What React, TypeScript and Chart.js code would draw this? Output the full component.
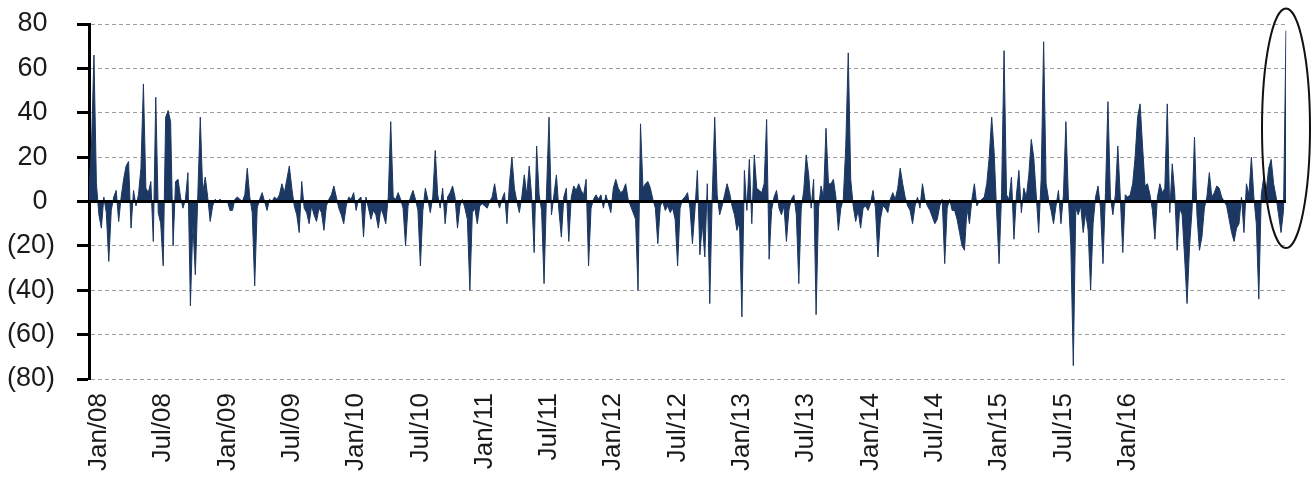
import React, { useEffect, useRef } from 'react';
import { Chart, registerables } from 'chart.js';

Chart.register(...registerables);

// Weekly values, grouped by the labelled year they fall in
const lead2007 = [5, 25, 66, 8];
const year2008 = [
  -6, -12, 2, -5, -27, -4, 2, 5, -9, 2,
  10, 16, 18, -12, 5, -2, 3, 15, 53, 6,
  4, 9, -18, 47, -5, -10, -29, 38, 41, 36,
  -20, 9, 10, 2, -3, 1, 13, -47, -10, -33,
  3, 38, 4, 11, 2, -9, -2, 1, 0, 1,
  0, 0,
];
const year2009 = [
  0, -4, -4, 1, 2, 1, 0, 3, 15, 2,
  -5, -38, -3, 1, 4, 0, -4, 1, 0, 2,
  1, 3, 8, 4, 10, 16, 6, -2, -6, -14,
  9, -3, -5, -10, -2, -6, -9, -3, -5, -13,
  -2, 1, 3, 7, 2, -3, -6, -10, -2, 2,
  1, 4,
];
const year2010 = [
  -4, 1, 2, -16, 2, -3, -8, -4, -6, -12,
  -3, -6, -10, 2, 36, 2, 1, 4, 1, -3,
  -20, -2, 2, 5, 1, -4, -29, -4, 6, 1,
  -5, 2, 23, 3, -3, 6, -10, 2, 4, 7,
  2, -12, -2, 1, -3, -8, -40, -5, -3, -10,
  -2, -1,
];
const year2011 = [
  -2, -3, 0, 2, 8, 1, -3, 1, 4, -10,
  8, 20, 6, 0, -5, 2, 12, 3, 16, 2,
  -23, 25, 3, -4, -37, 4, 38, -6, 3, 12,
  -4, -16, 2, 6, -18, 2, 7, 5, 8, 5,
  3, 10, -29, -3, 1, 3, 1, 3, -3, 3,
  -1, -5,
];
const year2012 = [
  6, 10, 6, 4, 5, 8, 1, -2, -5, -8,
  -40, 35, 6, 8, 9, 6, 1, -3, -19, -2,
  0, -4, -2, -5, -3, -8, -29, -3, 1, 2,
  4, -3, -19, -4, 14, -24, -10, -25, 8, -46,
  2, 38, 3, -6, -2, 3, 8, 4, -2, -6,
  -13, -9,
];
const year2013 = [
  -52, 14, -4, 19, -10, 21, 6, 5, 4, 8,
  37, -26, -4, 2, 5, -3, -6, -2, -18, -4,
  1, 3, -6, -37, -3, 5, 21, 12, -3, 10,
  -51, -3, 7, 2, 33, 8, 8, 10, 2, -13,
  -3, 1, 25, 67, 10, -2, -9, -4, -12, -3,
  -2, -4,
];
const year2014 = [
  -1, 5, -3, -25, -8, -2, -3, -5, 1, 4,
  1, 6, 15, 8, 2, -2, -4, -10, -2, 2,
  -3, 8, 1, -2, -4, -7, -10, -8, -2, 1,
  -28, -3, 1, -4, -4, -8, -14, -20, -22, -3,
  -10, 1, 8, -2, 0, 1, 2, 8, 20, 38,
  22, -5,
];
const year2015 = [
  -28, 4, 68, 3, 1, 11, -17, 3, 14, -5,
  6, 2, 12, 28, 20, 3, -14, 10, 72, 8,
  1, -4, -10, -2, 5, -10, 3, 36, 2, -20,
  -74, -3, -6, -2, -14, -5, -13, -40, -10, 2,
  7, -3, -28, 4, 45, 2, -6, 3, 25, 2,
  -23, 3,
];
const year2016 = [
  2, 3, 8, 20, 38, 44, 25, 7, 8, 3,
  -4, -17, 2, 8, 4, 6, 44, -5, 17, 4,
  -22, -3, -6, -25, -46, -20, -4, 29, -6, -22,
  -16, -3, 2, 13, 2, 4, 7, 6, 2, 0,
  -2, -8, -14, -18, -12, -10, 2, -14, 8, 3,
  20, 2, -10, -44, 3, 11, 5, 15, 19, 8,
  2, -6, -14, -4, 77,
];

const tickLabels = [
  'Jan/08', 'Jul/08', 'Jan/09', 'Jul/09', 'Jan/10', 'Jul/10', 'Jan/11', 'Jul/11',
  'Jan/12', 'Jul/12', 'Jan/13', 'Jul/13', 'Jan/14', 'Jul/14', 'Jan/15', 'Jul/15', 'Jan/16',
];

// highlighted latest reading: ellipse spans these values
const highlightTop = 87;
const highlightBottom = -21;

const values = [
  ...lead2007, ...year2008, ...year2009, ...year2010, ...year2011,
  ...year2012, ...year2013, ...year2014, ...year2015, ...year2016,
];
const firstLabelIndex = lead2007.length;
const labelEvery = 26;
const categories = values.map((_, i) => String(i));

const NAVY = '#1c3862';

const overlayPlugin = {
  id: 'overlay',
  afterDatasetsDraw(chart: any) {
    const { ctx, chartArea, scales } = chart;
    const x = scales.x;
    const y = scales.y;
    const y0 = y.getPixelForValue(0);
    ctx.save();
    ctx.strokeStyle = '#000';
    ctx.lineWidth = 3;
    ctx.beginPath();
    ctx.moveTo(chartArea.left, y0);
    ctx.lineTo(chartArea.right, y0);
    ctx.stroke();

    const cx = x.getPixelForValue(values.length - 1);
    const yt = y.getPixelForValue(highlightTop);
    const yb = y.getPixelForValue(highlightBottom);
    ctx.lineWidth = 2;
    ctx.strokeStyle = '#111';
    ctx.beginPath();
    ctx.ellipse(cx, (yt + yb) / 2, 24, (yb - yt) / 2, 0, 0, Math.PI * 2);
    ctx.stroke();
    ctx.restore();
  },
};

export default function App() {
  const canvasRef = useRef<HTMLCanvasElement | null>(null);

  useEffect(() => {
    document.body.style.margin = '0';
    const canvas = canvasRef.current;
    if (!canvas) return;
    Chart.defaults.font.family = "'Liberation Sans', Arial, sans-serif";
    const chart = new Chart(canvas, {
      type: 'line',
      data: {
        labels: categories,
        datasets: [
          {
            data: values,
            borderColor: NAVY,
            backgroundColor: NAVY,
            borderWidth: 1,
            pointRadius: 0,
            fill: 'origin',
            tension: 0,
          },
        ],
      },
      options: {
        animation: false,
        responsive: true,
        maintainAspectRatio: false,
        layout: { padding: { top: 24, right: 28, left: 0, bottom: 0 } },
        plugins: { legend: { display: false }, tooltip: { enabled: false } },
        scales: {
          x: {
            type: 'category',
            offset: false,
            grid: { display: false, drawTicks: false },
            border: { display: false },
            ticks: {
              autoSkip: false,
              maxRotation: 90,
              minRotation: 90,
              padding: 14,
              color: '#1a1a1a',
              font: { size: 26 },
              callback: (_v: any, index: number) => {
                const k = index - firstLabelIndex;
                if (k >= 0 && k % labelEvery === 0 && k / labelEvery < tickLabels.length) {
                  return tickLabels[k / labelEvery];
                }
                return '';
              },
            },
            afterFit: (scale: any) => {
              scale.height = 107;
              scale.paddingLeft = 0;
              scale.paddingRight = 0;
            },
          },
          y: {
            min: -80,
            max: 80,
            grid: {
              color: '#9c9c9c',
              lineWidth: 1,
              drawTicks: true,
              tickLength: 12,
              tickColor: '#000',
              tickWidth: 3,
              tickBorderDash: [],
            },
            border: { display: true, color: '#000', width: 3, dash: [4, 3] },
            ticks: {
              stepSize: 20,
              padding: 22,
              color: '#1a1a1a',
              font: { size: 27 },
              callback: (v: any) => (Number(v) < 0 ? `(${-Number(v)})` : `${v} `),
            },
            afterFit: (scale: any) => {
              scale.width = 89;
              scale.paddingTop = 0;
              scale.paddingBottom = 0;
            },
          },
        },
      },
      plugins: [overlayPlugin],
    });
    return () => chart.destroy();
  }, []);

  return (
    <div style={{ width: 1314, height: 486, position: 'relative', background: '#fff' }}>
      <canvas ref={canvasRef} />
    </div>
  );
}
